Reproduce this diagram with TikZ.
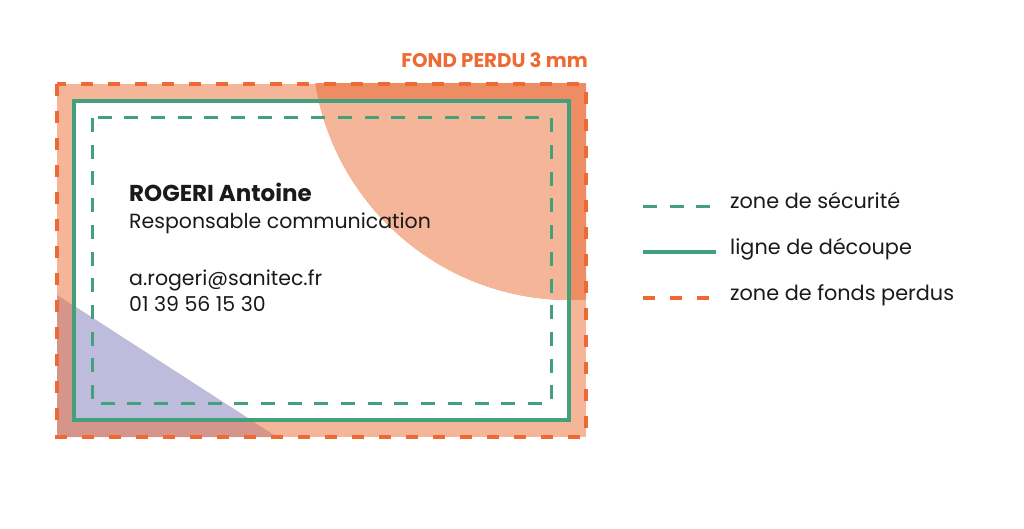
\documentclass[tikz,border=0pt]{standalone}
\usepackage{fontspec}
\setmainfont{Poppins}
\usepackage{xcolor}
\definecolor{bleedorange}{HTML}{EE6A35}
\definecolor{bleedfill}{HTML}{F4B599}
\definecolor{overlapfill}{HTML}{EE8C63}
\definecolor{cutgreen}{HTML}{42A07A}
\definecolor{lavender}{HTML}{BDBCDC}
\definecolor{mauve}{HTML}{D6958B}
\definecolor{inktext}{HTML}{1A1A1A}
\def\cardsize{\fontsize{20.5}{25}\selectfont}
\def\namesize{\fontsize{23}{27}\selectfont}
\def\legendsize{\fontsize{20.8}{24}\selectfont}
\def\titlesize{\fontsize{19.8}{24}\selectfont}

\begin{document}
\begin{tikzpicture}[x=1pt,y=-1pt]
	\tikzstyle{bleed line}=[draw=bleedorange,line width=3.3pt,dash pattern=on 12pt off 15pt]
	\tikzstyle{cut line}=[draw=cutgreen,line width=3.3pt]
	\tikzstyle{safe line}=[draw=cutgreen,line width=3pt,dash pattern=on 14pt off 12.7pt]
	\tikzstyle{card text}=[anchor=base west,inner sep=0pt,text=inktext,font=\cardsize]
	\tikzstyle{legend text}=[anchor=base west,inner sep=0pt,text=inktext,font=\legendsize]

	\useasboundingbox[fill=white] (0,0) rectangle (1024,529);

	% Corners of the bleed, cut and safe zones
	\coordinate (B-nw) at (57,84);  \coordinate (B-se) at (586,437);
	\coordinate (C-nw) at (74,101); \coordinate (C-se) at (569,420);
	\coordinate (S-nw) at (92,118); \coordinate (S-se) at (551,403);

	% Draw the bleed band and the white card
	\fill[bleedfill] (B-nw) rectangle (B-se);
	\fill[white] (C-nw) rectangle (C-se);

	% Circle and triangle, darker where they cover the bleed band
	\begin{scope}
		\clip (B-nw) rectangle (B-se);
		\fill[overlapfill] (570,42) circle[radius=258pt];
		\fill[mauve] (57,295) -- (277,437) -- (57,437) -- cycle;
	\end{scope}
	\begin{scope}
		\clip (C-nw) rectangle (C-se);
		\fill[bleedfill] (570,42) circle[radius=258pt];
		\fill[lavender] (57,295) -- (277,437) -- (57,437) -- cycle;
	\end{scope}

	% Draw the three frames
	\draw[safe line] (S-nw) rectangle (S-se);
	\draw[cut line] (C-nw) rectangle (C-se);
	\draw[bleed line] (B-nw) rectangle (B-se);

	% Text of the card
	\node[card text,font=\namesize\bfseries] (name) at (129,202) {ROGERI Antoine};
	\node[card text] (job) at (129,229) {Responsable communication};
	\node[card text] (mail) at (129,285) {a.rogeri@sanitec.fr};
	\node[card text] (phone) at (129,311) {01 39 56 15 30};

	% Size of the bleed
	\node[anchor=base east,inner sep=0pt,text=bleedorange,font=\titlesize\bfseries] (bleed) at (588,68) {FOND PERDU 3 mm};

	% Draw the legend
	\foreach \name/\y/\sty/\txt in {safe/207/safe line/zone de sécurité,cut/252/cut line/ligne de découpe,bleed/298/bleed line/zone de fonds perdus} {
		\coordinate (L-\name-a) at (643,\y);
		\coordinate (L-\name-b) at (716,\y);
		\draw[\sty] (L-\name-a) -- (L-\name-b);
		\node[legend text] (T-\name) at (730,\y+2) {\txt};
	}
\end{tikzpicture}
\end{document}
